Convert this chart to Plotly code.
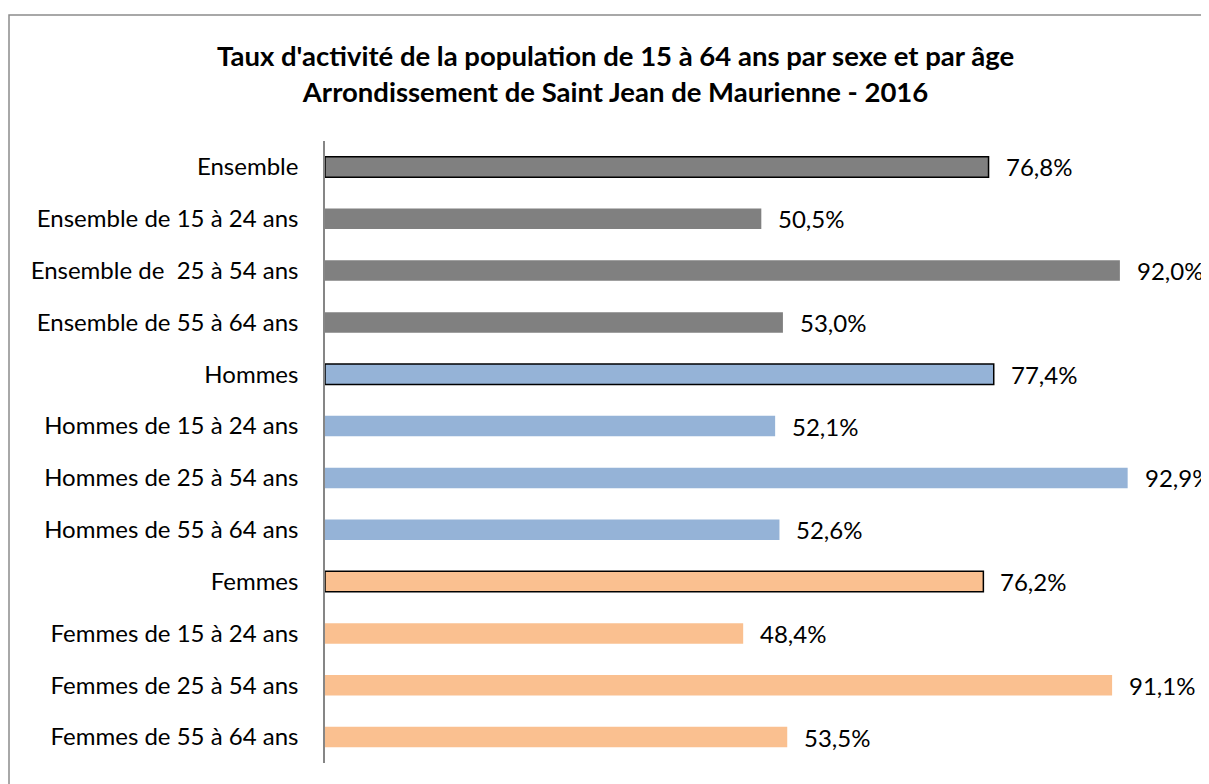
import plotly.graph_objects as go

# catégories (de haut en bas) et taux d'activité en %
categories = [
    "Ensemble", "Ensemble de 15 à 24 ans", "Ensemble de  25 à 54 ans", "Ensemble de 55 à 64 ans",
    "Hommes", "Hommes de 15 à 24 ans", "Hommes de 25 à 54 ans", "Hommes de 55 à 64 ans",
    "Femmes", "Femmes de 15 à 24 ans", "Femmes de 25 à 54 ans", "Femmes de 55 à 64 ans",
]
values = [76.8, 50.5, 92.0, 53.0, 77.4, 52.1, 92.9, 52.6, 76.2, 48.4, 91.1, 53.5]
groups = ["ens"] * 4 + ["hom"] * 4 + ["fem"] * 4
totals = [True, False, False, False] * 3

COLORS = {"ens": "#808080", "hom": "#95B3D7", "fem": "#FAC090"}
FONT = "Lato"

# la page a une marge de 8px : la figure commence à (8, 8)
W, H = 1201, 776
L, R, T, B = 317, 20, 133, 20.5
PW, PH = W - L - R, H - T - B

fig = go.Figure()
fig.add_trace(go.Bar(
    y=categories, x=values, orientation="h",
    marker=dict(
        color=[COLORS[g] for g in groups],
        line=dict(color=["#000000" if t else "rgba(0,0,0,0)" for t in totals],
                  width=[1.5 if t else 0 for t in totals]),
    ),
    width=0.395, hoverinfo="skip",
))

# étiquettes de valeur avec virgule décimale
for c, v in zip(categories, values):
    fig.add_annotation(x=v, y=c, text=f"{v:.1f}".replace(".", ",") + "%",
                       xanchor="left", xshift=15, showarrow=False,
                       font=dict(family=FONT, size=24, color="#000000"))

# titre sur deux lignes
fig.add_annotation(
    xref="paper", yref="paper", x=(607 - L) / PW, y=1 + (T - 65.5) / PH,
    xanchor="center", yanchor="middle", showarrow=False,
    text="<b>Taux d'activité de la population de 15 à 64 ans par sexe et par âge<br>"
         "Arrondissement de Saint Jean de Maurienne - 2016</b>",
    font=dict(family=FONT, size=27.5, color="#000000"),
)

# cadre gris du graphique
fig.add_shape(type="rect", xref="paper", yref="paper",
              x0=(1 - L) / PW, x1=(W + 20 - L) / PW,
              y0=-(B + 20) / PH, y1=(H - B - 7) / PH,
              line=dict(color="#8C8C8C", width=1.5), layer="below")

fig.update_layout(
    width=W, height=H,
    margin=dict(l=L, r=R, t=T, b=B),
    paper_bgcolor="white", plot_bgcolor="white",
    showlegend=False,
    xaxis=dict(range=[0, 100], visible=False, fixedrange=True),
    yaxis=dict(autorange="reversed", showline=True, linecolor="#868686", linewidth=1.5,
               ticks="", showgrid=False, ticklabelstandoff=20,
               tickfont=dict(family=FONT, size=24, color="#000000")),
)

fig.write_html("out.html")
